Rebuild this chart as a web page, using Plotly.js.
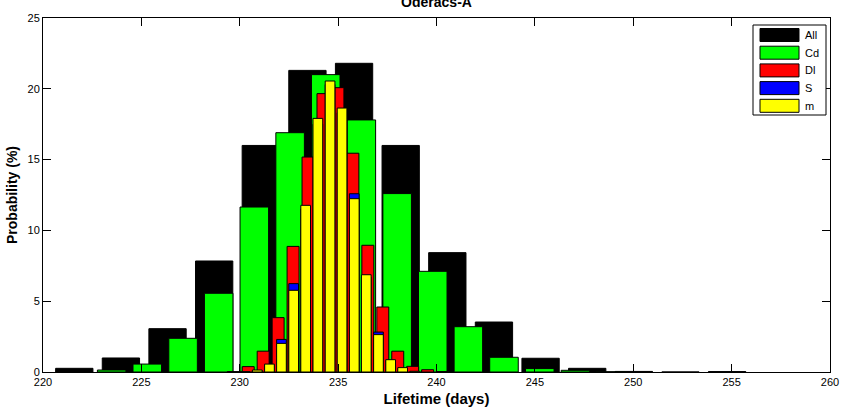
<!DOCTYPE html>
<html>
<head>
<meta charset="utf-8">
<script src="https://cdn.plot.ly/plotly-3.0.1.min.js"></script>
<style>
  html, body { margin: 0; padding: 0; background: #ffffff; }
  #chart { width: 842px; height: 408px; }
</style>
</head>
<body>
<div id="chart"></div>
<script>
// Lifetime histograms (probability, %) for each group, each on its own bin grid.
var seriesNames = ['All', 'Cd', 'Dl', 'S', 'm'];
var seriesColors = ['#000000', '#00ff00', '#ff0000', '#0000ff', '#ffff00'];

var allDays = [221.59, 223.96, 226.33, 228.70, 231.07, 233.44, 235.81, 238.18, 240.55, 242.92, 245.29, 247.66, 250.03, 252.40, 254.77];
var allProb = [0.26, 0.99, 3.06, 7.84, 16.0, 21.3, 21.8, 16.0, 8.43, 3.53, 0.97, 0.26, 0.04, 0.0, 0.03];
var allBinWidth = 2.37;

var cdDays = [223.49, 225.30, 227.12, 228.93, 230.74, 232.56, 234.37, 236.18, 238.00, 239.81, 241.62, 243.43, 245.25, 247.06, 248.87];
var cdProb = [0.14, 0.56, 2.38, 5.56, 11.65, 16.9, 21.0, 17.8, 12.6, 7.11, 3.2, 1.04, 0.24, 0.12, 0.02];
var cdBinWidth = 1.813;

var dlDays = [229.67, 230.43, 231.19, 231.95, 232.71, 233.47, 234.23, 234.99, 235.75, 236.51, 237.27, 238.03, 238.79, 239.55, 240.31];
var dlProb = [0.03, 0.38, 1.47, 3.84, 8.87, 15.18, 19.66, 20.08, 15.45, 8.95, 4.59, 1.47, 0.40, 0.16, 0.03];
var dlBinWidth = 0.76;

var mDays = [230.27, 230.89, 231.51, 232.12, 232.74, 233.35, 233.97, 234.59, 235.20, 235.82, 236.43, 237.05, 237.67, 238.28, 238.90];
var sProb = [0.0, 0.10, 0.50, 2.30, 6.24, 11.5, 17.5, 20.3, 18.3, 12.59, 6.7, 2.82, 0.8, 0.25, 0.03];
var mProb = [0.02, 0.14, 0.56, 2.02, 5.77, 11.77, 17.91, 20.55, 18.64, 12.24, 6.87, 2.64, 0.87, 0.31, 0.05];
var mBinWidth = 0.6163;

var xTicks = [220, 225, 230, 235, 240, 245, 250, 255, 260];
var yTicks = [0, 5, 10, 15, 20, 25];

var barFill = 0.8; // bar width as a fraction of the bin width

function barTrace(name, color, x, y, binWidth) {
  return {
    type: 'bar',
    name: name,
    x: x,
    y: y,
    width: binWidth * barFill,
    marker: { color: color, line: { color: '#000000', width: 1 } },
    hoverinfo: 'x+y+name',
    showlegend: false
  };
}

var traces = [
  barTrace(seriesNames[0], seriesColors[0], allDays, allProb, allBinWidth),
  barTrace(seriesNames[1], seriesColors[1], cdDays, cdProb, cdBinWidth),
  barTrace(seriesNames[2], seriesColors[2], dlDays, dlProb, dlBinWidth),
  barTrace(seriesNames[3], seriesColors[3], mDays, sProb, mBinWidth),
  barTrace(seriesNames[4], seriesColors[4], mDays, mProb, mBinWidth)
];

// Plot area geometry in pixels (used for the boxed legend).
var W = 842, H = 408;
var M = { l: 43, r: 12, t: 18, b: 36 };
var plotW = W - M.l - M.r, plotH = H - M.t - M.b;
function px(x) { return (x - M.l) / plotW; }
function py(y) { return (H - M.b - y) / plotH; }

var baseFont = 'Liberation Sans, Arial, Helvetica, sans-serif';

var shapes = [];
var annotations = [];
// legend frame
shapes.push({
  type: 'rect', xref: 'paper', yref: 'paper', layer: 'above',
  x0: px(753), x1: px(826), y0: py(115), y1: py(25),
  fillcolor: '#ffffff', line: { color: '#000000', width: 1 }
});
for (var i = 0; i < seriesNames.length; i++) {
  var cy = 35 + i * 17.7;
  shapes.push({
    type: 'rect', xref: 'paper', yref: 'paper', layer: 'above',
    x0: px(760), x1: px(799), y0: py(cy + 6.5), y1: py(cy - 6.5),
    fillcolor: seriesColors[i], line: { color: '#000000', width: 1 }
  });
  annotations.push({
    xref: 'paper', yref: 'paper', x: px(803), y: py(cy),
    xanchor: 'left', yanchor: 'middle', showarrow: false,
    text: seriesNames[i], font: { family: baseFont, size: 11, color: '#000000' }
  });
}

var axisCommon = {
  showline: true, linecolor: '#000000', linewidth: 1, mirror: 'allticks',
  ticks: 'inside', ticklen: 8, tickwidth: 1, tickcolor: '#000000',
  showgrid: false, zeroline: false,
  tickfont: { family: baseFont, size: 11, color: '#000000' },
  fixedrange: true
};

var layout = {
  width: W, height: H,
  margin: M,
  paper_bgcolor: '#ffffff', plot_bgcolor: '#ffffff',
  barmode: 'overlay',
  bargap: 0,
  showlegend: false,
  title: {
    text: '<b>Oderacs-A</b>',
    font: { family: baseFont, size: 14, color: '#000000' },
    xref: 'paper', x: 0.5, xanchor: 'center',
    yref: 'container', y: 0.994, yanchor: 'middle'
  },
  xaxis: Object.assign({}, axisCommon, {
    range: [220, 260], tickvals: xTicks, ticktext: xTicks.map(String),
    title: { text: '<b>Lifetime (days)</b>', font: { family: baseFont, size: 15, color: '#000000' }, standoff: 6 }
  }),
  yaxis: Object.assign({}, axisCommon, {
    range: [0, 25], tickvals: yTicks, ticktext: yTicks.map(String),
    title: { text: '<b>Probability (%)</b>', font: { family: baseFont, size: 14, color: '#000000' }, standoff: 6 }
  }),
  shapes: shapes,
  annotations: annotations
};

Plotly.newPlot('chart', traces, layout, { displayModeBar: false, staticPlot: true });
</script>
</body>
</html>
